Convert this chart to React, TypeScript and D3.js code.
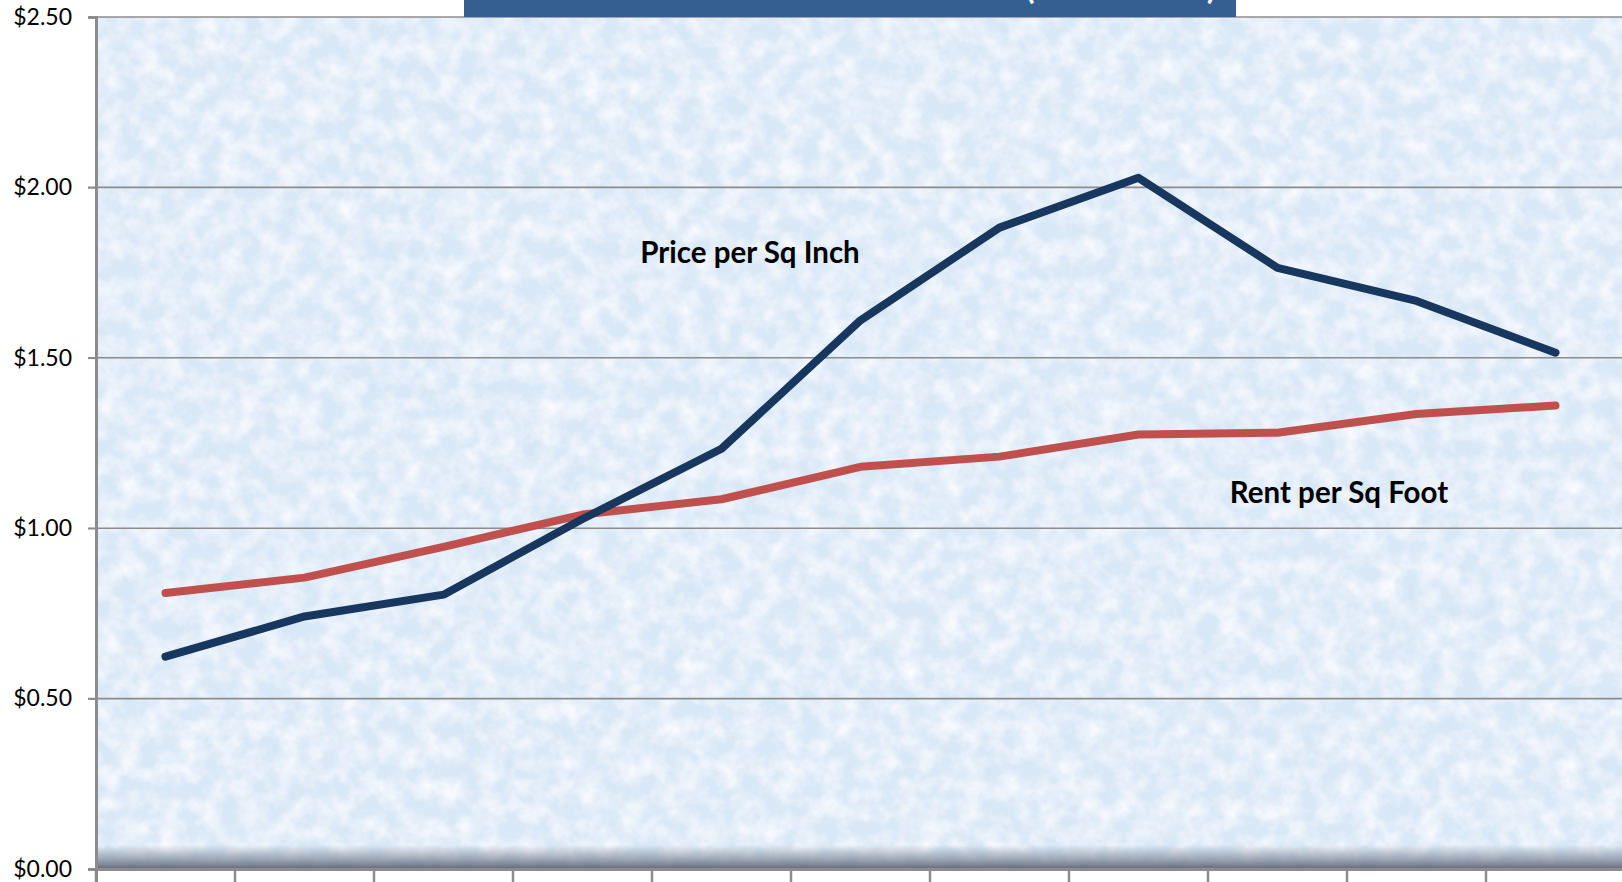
import React, { useRef, useEffect } from 'react';
import * as d3 from 'd3';

const categories = ['1996', '1997', '1998', '1999', '2000', '2001', '2002', '2003', '2004', '2005', '2006'];
const pricePerSqInch = [0.623, 0.741, 0.805, 1.027, 1.233, 1.61, 1.882, 2.028, 1.764, 1.667, 1.515];
const rentPerSqFoot = [0.81, 0.855, 0.945, 1.04, 1.085, 1.18, 1.21, 1.275, 1.28, 1.335, 1.36];
const yTicks = [0, 0.5, 1, 1.5, 2, 2.5];
const titleText = 'Median Home Price and Rent Trends (1996–2006)';

const W = 1622;
const H = 882;
const left = 96;
const right = 1625;
const top = 17;
const bottom = 869;
const font = 'Lato, "Open Sans", sans-serif';

export default function App() {
    const ref = useRef<SVGSVGElement>(null);

    useEffect(() => {
        if (!ref.current) return;
        const svg = d3.select(ref.current);
        svg.selectAll('*').remove();

        const x = d3.scaleBand<string>().domain(categories).range([left, right]);
        const y = d3.scaleLinear().domain([0, 2.5]).range([bottom, top]);

        const defs = svg.append('defs');
        const filter = defs.append('filter').attr('id', 'tex')
            .attr('x', 0).attr('y', 0).attr('width', '100%').attr('height', '100%');
        filter.append('feTurbulence')
            .attr('type', 'fractalNoise')
            .attr('baseFrequency', 0.05)
            .attr('numOctaves', 4)
            .attr('seed', 7);
        filter.append('feColorMatrix')
            .attr('type', 'matrix')
            .attr('values', '0 0 0 0 0.96  0 0 0 0 0.96  0 0 0 0 1  1.8 0 0 0 -0.6');

        const shade = defs.append('linearGradient').attr('id', 'shade')
            .attr('x1', 0).attr('y1', 0).attr('x2', 0).attr('y2', 1);
        shade.append('stop').attr('offset', '0%').attr('stop-color', '#6b7586').attr('stop-opacity', 0);
        shade.append('stop').attr('offset', '60%').attr('stop-color', '#6b7586').attr('stop-opacity', 0.6);
        shade.append('stop').attr('offset', '100%').attr('stop-color', '#5a6374').attr('stop-opacity', 0.95);

        const clip = defs.append('clipPath').attr('id', 'plotclip');
        clip.append('rect').attr('x', left).attr('y', top).attr('width', right - left).attr('height', bottom - top);

        // plot background
        svg.append('rect')
            .attr('x', left).attr('y', top)
            .attr('width', right - left).attr('height', bottom - top)
            .attr('fill', '#d9e8f6');
        svg.append('rect')
            .attr('x', left).attr('y', top)
            .attr('width', right - left).attr('height', bottom - top)
            .attr('filter', 'url(#tex)');
        svg.append('rect')
            .attr('x', left).attr('y', bottom - 24)
            .attr('width', right - left).attr('height', 24)
            .attr('fill', 'url(#shade)');

        // gridlines
        svg.append('g')
            .selectAll('line')
            .data(yTicks.filter(d => d > 0))
            .enter()
            .append('line')
            .attr('x1', left - 8).attr('x2', right)
            .attr('y1', d => y(d)).attr('y2', d => y(d))
            .attr('stroke', '#8c8c8c')
            .attr('stroke-width', 1.6);

        // y axis
        const yAxis = d3.axisLeft(y)
            .tickValues(yTicks)
            .tickSize(8)
            .tickPadding(16)
            .tickFormat(d => '$' + (d as number).toFixed(2));
        const gy = svg.append('g').attr('transform', `translate(${left},0)`).call(yAxis);
        gy.select('.domain').attr('stroke', '#8c8c8c').attr('stroke-width', 3);
        gy.selectAll('.tick line').attr('stroke', '#8c8c8c').attr('stroke-width', 1.6);
        gy.selectAll('.tick text')
            .attr('font-family', font)
            .attr('font-size', 23)
            .attr('fill', '#000');

        // x axis
        const xAxis = d3.axisBottom(x).tickSize(14).tickFormat(() => '');
        const gx = svg.append('g').attr('transform', `translate(0,${bottom})`).call(xAxis);
        gx.select('.domain').attr('stroke', '#8c8c8c').attr('stroke-width', 3);
        gx.selectAll('.tick').remove();
        gx.selectAll('line.sep')
            .data(categories)
            .enter()
            .append('line')
            .attr('class', 'sep')
            .attr('x1', d => x(d) as number).attr('x2', d => x(d) as number)
            .attr('y1', 0).attr('y2', 14)
            .attr('stroke', '#8c8c8c')
            .attr('stroke-width', 2.5);

        const line = d3.line<number>()
            .x((_, i) => (x(categories[i]) as number) + x.bandwidth() / 2)
            .y(d => y(d));

        const lines = svg.append('g').attr('clip-path', 'url(#plotclip)');
        lines.append('path')
            .datum(rentPerSqFoot)
            .attr('d', line)
            .attr('fill', 'none')
            .attr('stroke', '#c0504d')
            .attr('stroke-width', 8)
            .attr('stroke-linecap', 'round')
            .attr('stroke-linejoin', 'round');
        lines.append('path')
            .datum(pricePerSqInch)
            .attr('d', line)
            .attr('fill', 'none')
            .attr('stroke', '#17375e')
            .attr('stroke-width', 8)
            .attr('stroke-linecap', 'round')
            .attr('stroke-linejoin', 'round');

        // series labels
        svg.append('text')
            .attr('x', 750).attr('y', 263)
            .attr('text-anchor', 'middle')
            .attr('font-family', font)
            .attr('font-weight', 'bold')
            .attr('font-size', 29.5)
            .text('Price per Sq Inch');
        svg.append('text')
            .attr('x', 1339).attr('y', 503)
            .attr('text-anchor', 'middle')
            .attr('font-family', font)
            .attr('font-weight', 'bold')
            .attr('font-size', 29.5)
            .text('Rent per Sq Foot');

        // title box (cut off at top edge)
        svg.append('rect')
            .attr('x', 464).attr('y', -40)
            .attr('width', 772).attr('height', 57)
            .attr('fill', '#365f91');
        svg.append('text')
            .attr('x', 850).attr('y', -1)
            .attr('text-anchor', 'middle')
            .attr('font-family', font)
            .attr('font-weight', 'bold')
            .attr('font-size', 33)
            .attr('fill', '#fff')
            .text(titleText);
    }, []);

    return (
        <svg
            ref={ref}
            width={W}
            height={H}
            style={{ position: 'absolute', left: 0, top: 0, background: '#fff' }}
        />
    );
}
